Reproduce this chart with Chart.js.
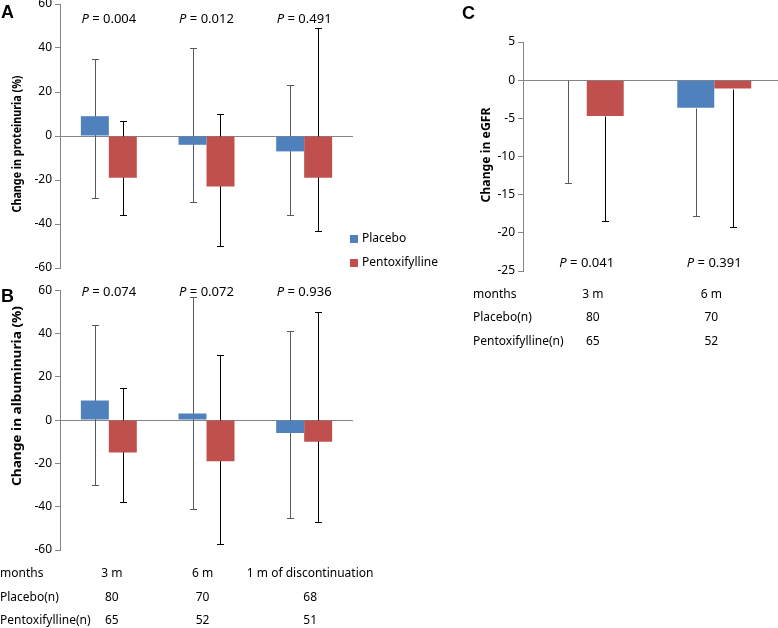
<!DOCTYPE html>
<html>
<head>
<meta charset="utf-8">
<script src="https://cdn.jsdelivr.net/npm/chart.js@4.4.0/dist/chart.umd.min.js"></script>
<style>
  body { margin: 0; background: #fff; width: 778px; height: 628px; overflow: hidden; position: relative; }
  .box { position: absolute; }
</style>
</head>
<body>
<div class="box" style="left:0;top:-10px;width:460px;height:290px"><canvas id="chartA"></canvas></div>
<div class="box" style="left:0;top:280px;width:390px;height:348px"><canvas id="chartB"></canvas></div>
<div class="box" style="left:390px;top:0;width:388px;height:360px"><canvas id="chartC"></canvas></div>
<script>
// ---- data ----
const monthsAB = ['3 m', '6 m', '1 m of discontinuation'];

// A: change in proteinuria (%)
const protPlacebo = [9, -4, -7];
const protPlaceboHi = [35, 40, 23];
const protPlaceboLo = [-28, -30, -36];
const protPentox = [-19, -23, -19];
const protPentoxHi = [7, 10, 49];
const protPentoxLo = [-36, -50, -43];
const protP = ['0.004', '0.012', '0.491'];

// B: change in albuminuria (%)
const albPlacebo = [9, 3, -6];
const albPlaceboHi = [44, 57, 41];
const albPlaceboLo = [-30, -41, -45];
const albPentox = [-15, -19, -10];
const albPentoxHi = [15, 30, 50];
const albPentoxLo = [-38, -57, -47];
const albP = ['0.074', '0.072', '0.936'];

const nPlaceboAB = [80, 70, 68];
const nPentoxAB = [65, 52, 51];

// C: change in eGFR
const monthsC = ['3 m', '6 m'];
const egfrPlacebo = [0, -3.6];
const egfrPlaceboLo = [-13.5, -17.8];
const egfrPentox = [-4.7, -1.1];
const egfrPentoxLo = [-18.5, -19.2];
const egfrP = ['0.041', '0.391'];
const nPlaceboC = [80, 70];
const nPentoxC = [65, 52];

// ---- style ----
const BLUE = '#4F81BD';
const RED = '#C0504D';
const AXIS = '#868686';
const FONT = '"Noto Sans", sans-serif';

Chart.defaults.font.family = FONT;
Chart.defaults.font.size = 12;
Chart.defaults.color = '#000';

// zero line + error bars, drawn under the bars
const errorBars = {
  id: 'errorBars',
  beforeDatasetsDraw(chart) {
    const { ctx, chartArea, scales: { y } } = chart;
    ctx.save();
    ctx.lineWidth = 1;
    const y0 = Math.round(y.getPixelForValue(0)) + 0.5;
    ctx.strokeStyle = AXIS;
    ctx.beginPath();
    ctx.moveTo(chartArea.left, y0);
    ctx.lineTo(chartArea.right, y0);
    ctx.stroke();

    chart.data.datasets.forEach((ds, d) => {
      const meta = chart.getDatasetMeta(d);
      ctx.strokeStyle = ds.errColor;
      meta.data.forEach((bar, i) => {
        const x = Math.round(bar.x) + 0.5;
        const top = Math.round(y.getPixelForValue(ds.errHi ? ds.errHi[i] : ds.data[i])) + 0.5;
        const bot = Math.round(y.getPixelForValue(ds.errLo[i])) + 0.5;
        ctx.beginPath();
        ctx.moveTo(x, top);
        ctx.lineTo(x, bot);
        if (ds.errHi) { ctx.moveTo(x - 3.5, top); ctx.lineTo(x + 3.5, top); }
        ctx.moveTo(x - 3.5, bot);
        ctx.lineTo(x + 3.5, bot);
        ctx.stroke();
      });
    });
    ctx.restore();
  }
};

// letters, axis titles, P values, n table, legend
function decor(cfg) {
  return {
    id: 'decor',
    afterDraw(chart) {
      const { ctx, scales: { x, y } } = chart;
      ctx.save();
      ctx.fillStyle = '#000';
      ctx.textBaseline = 'middle';

      ctx.font = 'bold 18px "Liberation Sans", Arial, sans-serif';
      ctx.textAlign = 'left';
      ctx.fillText(cfg.letter, cfg.letterX, cfg.letterY);

      // rotated y title, stretched to the length it has in the figure
      ctx.save();
      ctx.translate(cfg.titleX, cfg.titleY);
      ctx.rotate(-Math.PI / 2);
      ctx.font = 'bold 12px ' + FONT;
      const tw = ctx.measureText(cfg.title).width;
      ctx.scale(cfg.titleLen / tw, 1);
      ctx.textAlign = 'center';
      ctx.fillText(cfg.title, 0, 0);
      ctx.restore();

      const py = y.getPixelForValue(cfg.pAt);
      cfg.pValues.forEach((p, i) => {
        const cx = x.getPixelForValue(i);
        const it = 'italic 13px ' + FONT, nm = '13px ' + FONT;
        const rest = ' = ' + p;
        ctx.font = it; const w1 = ctx.measureText('P').width;
        ctx.font = nm; const w2 = ctx.measureText(rest).width;
        const sx = cx - (w1 + w2) / 2;
        ctx.textAlign = 'left';
        ctx.font = it; ctx.fillText('P', sx, py);
        ctx.font = nm; ctx.fillText(rest, sx + w1, py);
      });

      if (cfg.table) {
        ctx.font = '12px ' + FONT;
        cfg.table.rows.forEach((row, r) => {
          const ry = cfg.table.rowY[r];
          ctx.textAlign = 'left';
          ctx.fillText(row.label, cfg.table.labelX, ry);
          ctx.textAlign = 'center';
          row.values.forEach((v, i) => ctx.fillText(String(v), x.getPixelForValue(i) + (cfg.table.shift ? cfg.table.shift[i] : 0), ry));
        });
      }

      if (cfg.legend) {
        ctx.font = '12px ' + FONT;
        ctx.textAlign = 'left';
        chart.data.datasets.forEach((ds, d) => {
          const ly = cfg.legend.y + d * cfg.legend.gap;
          ctx.fillStyle = ds.backgroundColor;
          ctx.fillRect(cfg.legend.x, ly - 4, 8, 8);
          ctx.fillStyle = '#000';
          ctx.fillText(ds.label, cfg.legend.x + 12, ly);
        });
      }
      ctx.restore();
    }
  };
}

function makeChart(id, c) {
  return new Chart(document.getElementById(id), {
    type: 'bar',
    data: {
      labels: c.labels,
      datasets: [
        { label: 'Placebo', data: c.placebo, backgroundColor: BLUE, errHi: c.placeboHi, errLo: c.placeboLo, errColor: '#595959' },
        { label: 'Pentoxifylline', data: c.pentox, backgroundColor: RED, errHi: c.pentoxHi, errLo: c.pentoxLo, errColor: '#000' }
      ]
    },
    options: {
      responsive: true,
      maintainAspectRatio: false,
      animation: false,
      layout: { padding: c.padding },
      datasets: { bar: { categoryPercentage: c.catPct, barPercentage: 1, borderWidth: 0 } },
      plugins: { legend: { display: false }, tooltip: { enabled: false } },
      scales: {
        x: { display: false },
        y: {
          min: c.min, max: c.max,
          ticks: { stepSize: c.step, padding: 3, color: '#000', font: { size: 12 } },
          grid: { drawOnChartArea: false, drawTicks: true, tickLength: 5, tickColor: AXIS },
          border: { color: AXIS },
          afterFit(s) { s.width = c.yWidth; }
        }
      }
    },
    plugins: [errorBars, decor(c.decor)]
  });
}

makeChart('chartA', {
  labels: monthsAB,
  placebo: protPlacebo, placeboHi: protPlaceboHi, placeboLo: protPlaceboLo,
  pentox: protPentox, pentoxHi: protPentoxHi, pentoxLo: protPentoxLo,
  min: -60, max: 60, step: 20, yWidth: 60, catPct: 0.573,
  padding: { left: 0, right: 107, top: 14, bottom: 12 },
  decor: {
    letter: 'A', letterX: 1, letterY: 23,
    title: 'Change in proteinuria (%)', titleX: 18, titleY: 154, titleLen: 137,
    pValues: protP, pAt: 53,
    legend: { x: 350, y: 249, gap: 24 }
  }
});

makeChart('chartB', {
  labels: monthsAB,
  placebo: albPlacebo, placeboHi: albPlaceboHi, placeboLo: albPlaceboLo,
  pentox: albPentox, pentoxHi: albPentoxHi, pentoxLo: albPentoxLo,
  min: -60, max: 60, step: 20, yWidth: 60, catPct: 0.573,
  padding: { left: 0, right: 37, top: 8, bottom: 78 },
  decor: {
    letter: 'B', letterX: 1, letterY: 17,
    title: 'Change in albuminuria (%)', titleX: 18, titleY: 116, titleLen: 180,
    pValues: albP, pAt: 59,
    table: {
      labelX: 0, rowY: [294, 318, 341], shift: [3, -4, 6],
      rows: [
        { label: 'months', values: monthsAB },
        { label: 'Placebo(n)', values: nPlaceboAB },
        { label: 'Pentoxifylline(n)', values: nPentoxAB }
      ]
    }
  }
});

makeChart('chartC', {
  labels: monthsC,
  placebo: egfrPlacebo, placeboHi: null, placeboLo: egfrPlaceboLo,
  pentox: egfrPentox, pentoxHi: null, pentoxLo: egfrPentoxLo,
  min: -25, max: 5, step: 5, yWidth: 133, catPct: 0.58,
  padding: { left: 0, right: 0, top: 42, bottom: 89 },
  decor: {
    letter: 'C', letterX: 72, letterY: 14,
    title: 'Change in eGFR', titleX: 97, titleY: 155, titleLen: 95,
    pValues: egfrP, pAt: -24,
    table: {
      labelX: 83, rowY: [295, 318, 342], shift: [6, -3],
      rows: [
        { label: 'months', values: monthsC },
        { label: 'Placebo(n)', values: nPlaceboC },
        { label: 'Pentoxifylline(n)', values: nPentoxC }
      ]
    }
  }
});
</script>
</body>
</html>
